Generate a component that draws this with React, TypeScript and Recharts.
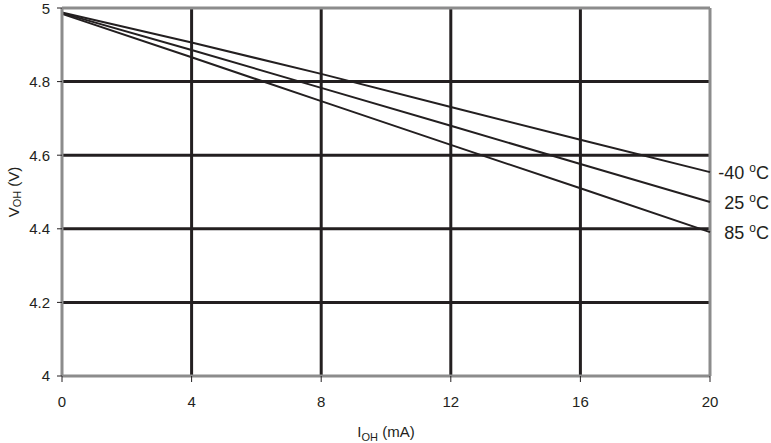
import React from "react";
import {
    LineChart,
    Line,
    XAxis,
    YAxis,
    CartesianGrid,
    ReferenceLine
} from "recharts";

const currents = [0, 4, 8, 12, 16, 20];
const vohMinus40 = [4.988, 4.906, 4.821, 4.731, 4.642, 4.554];
const voh25 = [4.986, 4.886, 4.783, 4.68, 4.576, 4.473];
const voh85 = [4.984, 4.866, 4.747, 4.628, 4.51, 4.391];
const xTicks = [0, 4, 8, 12, 16, 20];
const yTicks = [4, 4.2, 4.4, 4.6, 4.8, 5];
const seriesLabels = ["-40 ", "25 ", "85 "];

const data = currents.map((c, i) => ({
    ioh: c,
    m40: vohMinus40[i],
    t25: voh25[i],
    t85: voh85[i]
}));

const FONT = "'Liberation Sans', Arial, sans-serif";
const INK = "#231f20";
const BORDER = "#8c8c8c";

function endLabel(text: string) {
    return (props: any) => {
        const { x, y, index } = props;
        if (index !== data.length - 1) return null;
        return (
            <text x={x + 59} y={y + 7} textAnchor="end" fontFamily={FONT} fontSize={18} fill={INK}>
                {text}
                <tspan dy={-7} fontSize={12}>o</tspan>
                <tspan dy={7}>C</tspan>
            </text>
        );
    };
}

function XTitle({ viewBox }: any) {
    const { x, y, width } = viewBox;
    return (
        <text x={x + width / 2} y={y + 61} textAnchor="middle" fontFamily={FONT} fontSize={15} fill={INK}>
            I<tspan dy={4} fontSize={11}>OH</tspan>
            <tspan dy={-4}> (mA)</tspan>
        </text>
    );
}

function YTitle({ viewBox }: any) {
    const { x, y, height } = viewBox;
    const cx = x + 13;
    const cy = y + height / 2;
    return (
        <text
            x={cx}
            y={cy}
            textAnchor="middle"
            dominantBaseline="central"
            transform={`rotate(-90, ${cx}, ${cy})`}
            fontFamily={FONT}
            fontSize={15}
            fill={INK}
        >
            V<tspan dy={4} fontSize={11}>OH</tspan>
            <tspan dy={-4}> (V)</tspan>
        </text>
    );
}

export default function App() {
    const tickStyle = { fontSize: 15, fill: INK, fontFamily: FONT };
    return (
        <div style={{ position: "absolute", left: 0, top: 0, background: "#fff" }}>
            <LineChart width={771} height={443} data={data} margin={{ top: 8, right: 61, left: 0, bottom: 0 }}>
                <CartesianGrid
                    stroke={INK}
                    strokeWidth={3}
                    horizontalValues={[4.2, 4.4, 4.6, 4.8]}
                    verticalValues={[4, 8, 12, 16]}
                />
                <ReferenceLine y={5} stroke={BORDER} strokeWidth={3} />
                <ReferenceLine x={20} stroke={BORDER} strokeWidth={3} />
                <XAxis
                    dataKey="ioh"
                    type="number"
                    domain={[0, 20]}
                    ticks={xTicks}
                    height={67}
                    tickSize={6}
                    tickMargin={14}
                    stroke={BORDER}
                    strokeWidth={3}
                    tickLine={{ stroke: INK, strokeWidth: 1 }}
                    tick={tickStyle}
                    label={{ content: XTitle }}
                />
                <YAxis
                    type="number"
                    domain={[4, 5]}
                    ticks={yTicks}
                    width={62}
                    tickSize={5}
                    tickMargin={7}
                    stroke={BORDER}
                    strokeWidth={3}
                    tickLine={{ stroke: INK, strokeWidth: 1 }}
                    tick={tickStyle}
                    tickFormatter={(v) => String(v)}
                    label={{ content: YTitle }}
                />
                <Line dataKey="m40" stroke={INK} strokeWidth={2} dot={false} isAnimationActive={false} label={endLabel(seriesLabels[0])} />
                <Line dataKey="t25" stroke={INK} strokeWidth={2} dot={false} isAnimationActive={false} label={endLabel(seriesLabels[1])} />
                <Line dataKey="t85" stroke={INK} strokeWidth={2} dot={false} isAnimationActive={false} label={endLabel(seriesLabels[2])} />
            </LineChart>
        </div>
    );
}
